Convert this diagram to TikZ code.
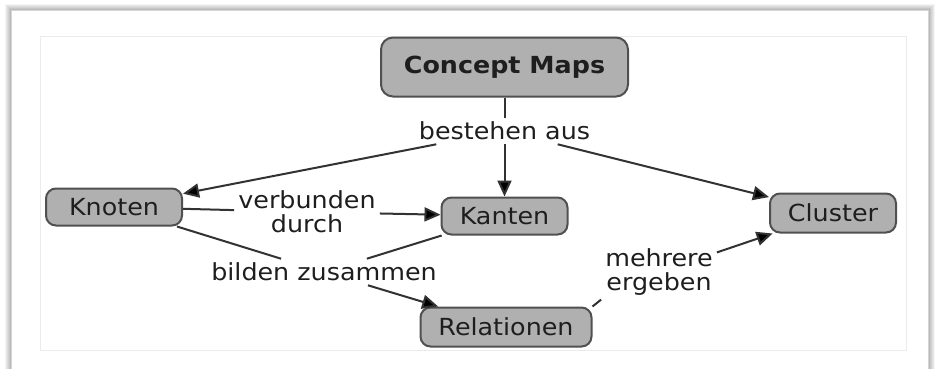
\documentclass[tikz,border=0pt]{standalone}
\usepackage{fontspec}
\setmainfont{DejaVu Sans}[FakeStretch=1.08]
\usetikzlibrary{arrows.meta}
\definecolor{nodefill}{RGB}{176,176,176}
\definecolor{nodeline}{RGB}{80,80,80}
\definecolor{conline}{RGB}{50,50,50}
\definecolor{txt}{RGB}{30,30,30}
\tikzset{
  concept/.style={draw=nodeline, line width=2pt, fill=nodefill, rounded corners=10pt,
    text=txt, font=\fontsize{23.5}{26}\selectfont, inner sep=0pt},
  linklabel/.style={text=txt, font=\fontsize{23.5}{24}\selectfont, align=center, inner sep=4pt},
  conn/.style={draw=conline, line width=2pt},
  arr/.style={conn, -{Triangle[length=16pt,width=14pt,fill=black]}},
}
\begin{document}
\begin{tikzpicture}[x=1pt,y=-1pt]
\useasboundingbox (0,0) rectangle (941,368);
% frame with soft shadow
\foreach \d/\o in {6/0.04,5/0.06,4/0.08,3/0.10,2/0.13,1/0.16}{
  \draw[black, opacity=\o, line width=2pt] (12-\d,11-\d) rectangle (928+\d,400);
}
\fill[white] (12,11) rectangle (928,400);
\draw[black!8, line width=1pt] (40,36) rectangle (906,350);

% nodes
\node[concept, minimum width=247pt, minimum height=59pt, rounded corners=12pt, font=\fontsize{23.5}{26}\selectfont\bfseries] (con) at (504.5,67) {Concept Maps};
\node[concept, minimum width=136pt, minimum height=37pt] (kno) at (114,207) {Knoten};
\node[concept, minimum width=126pt, minimum height=37pt] (kan) at (504.5,216) {Kanten};
\node[concept, minimum width=126pt, minimum height=39pt] (clu) at (833,213) {Cluster};
\node[concept, minimum width=171pt, minimum height=39pt] (rel) at (506,327) {Relationen};

% link labels
\node[linklabel] (bes) at (504.5,131) {bestehen aus};
\node[linklabel] (ver) at (307,212) {verbunden\\durch};
\node[linklabel] (bil) at (324,272) {bilden zusammen};
\node[linklabel] (meh) at (659,272) {mehrere\\ergeben};

% connectors
\draw[conn] (con) -- (bes);
\draw[arr] (bes) -- (kno);
\draw[arr] (bes) -- (kan);
\draw[arr] (bes) -- (clu);
\draw[conn] (kno) -- (ver);
\draw[arr] (ver) -- (kan);
\draw[conn] (kno) -- (bil);
\draw[conn] (kan) -- (bil);
\draw[arr] (bil) -- (rel);
\draw[conn] (rel.north east) -- (meh.south west);
\draw[arr] (meh) -- (clu);
\end{tikzpicture}
\end{document}
